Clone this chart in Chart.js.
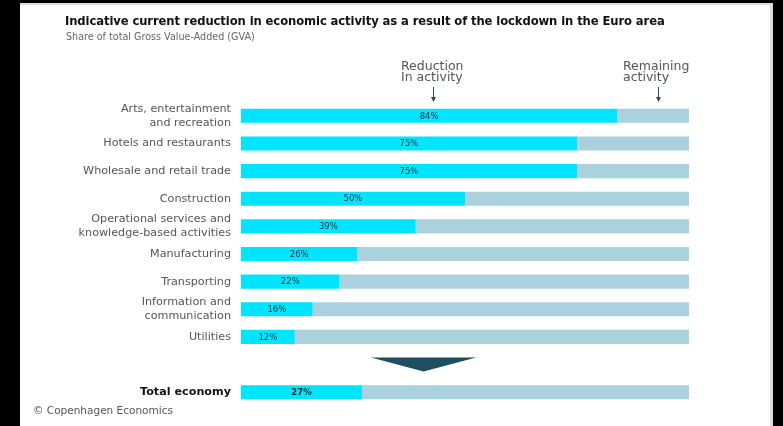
<!DOCTYPE html>
<html>
<head>
<meta charset="utf-8">
<script src="https://cdn.jsdelivr.net/npm/chart.js@4.4.1/dist/chart.umd.min.js"></script>
<style>
  html, body { margin: 0; padding: 0; background: #000; }
  body { width: 783px; height: 426px; position: relative; overflow: hidden; font-family: "DejaVu Sans", sans-serif; }
  #panel { position: absolute; left: 20px; top: 3px; width: 750px; height: 430px; background: #fff; border-top: 2px solid #ddd; border-right: 3px solid #ddd; }
  #chartWrap { position: absolute; left: 0; top: 0; width: 783px; height: 426px; }
  .txt { position: absolute; white-space: nowrap; }
  #title { left: 65px; top: 14px; font-size: 11.6px; font-weight: bold; color: #111; letter-spacing: -0.1px; }
  #subtitle { left: 66px; top: 31px; font-size: 9.6px; color: #666; }
  .note { font-size: 12.5px; line-height: 11px; color: #555; }
  #footer { left: 33px; top: 404px; font-size: 10.5px; color: #555; }
</style>
</head>
<body>
<div id="panel"></div>
<div id="chartWrap"><canvas id="chart" width="783" height="426"></canvas></div>
<div class="txt" id="title">Indicative current reduction in economic activity as a result of the lockdown in the Euro area</div>
<div class="txt" id="subtitle">Share of total Gross Value-Added (GVA)</div>
<div class="txt note" style="left:401px; top:60px;">Reduction<br>In activity</div>
<div class="txt note" style="left:623px; top:60px;">Remaining<br>activity</div>
<div class="txt" id="footer">© Copenhagen Economics</div>
<script>
// categories (empty slot holds the arrow between sectors and total)
const categories = [
    ["Arts, entertainment", "and recreation"],
    "Hotels and restaurants",
    "Wholesale and retail trade",
    "Construction",
    ["Operational services and", "knowledge-based activities"],
    "Manufacturing",
    "Transporting",
    ["Information and", "communication"],
    "Utilities",
    "",
    "Total economy"
];
const reduction = [84, 75, 75, 50, 39, 26, 22, 16, 12, null, 27];
const remaining = [16, 25, 25, 50, 61, 74, 78, 84, 88, null, 73];
const totalIndex = 10;
const arrowSlot = 9;

const cyan = "#00E5FF";
const grey = "#A9D2DE";

// percentage labels in the middle of the cyan bars
const valueLabels = {
    id: "valueLabels",
    afterDatasetsDraw(chart) {
        const ctx = chart.ctx;
        const meta = chart.getDatasetMeta(0);
        ctx.save();
        ctx.fillStyle = "#1c2f36";
        ctx.textAlign = "center";
        ctx.textBaseline = "middle";
        meta.data.forEach((bar, i) => {
            if (reduction[i] == null) return;
            ctx.font = (i === totalIndex ? "bold " : "") + "8.5px 'DejaVu Sans'";
            ctx.fillText(reduction[i] + "%", (bar.base + bar.x) / 2, bar.y + 0.5);
        });
        ctx.restore();
    }
};

// header arrows and the chevron before the total
const decorations = {
    id: "decorations",
    afterDraw(chart) {
        const ctx = chart.ctx;
        const x = chart.scales.x, y = chart.scales.y;
        ctx.save();
        ctx.strokeStyle = "#2d4a58";
        ctx.fillStyle = "#2d4a58";
        ctx.lineWidth = 1;
        [433.5, 658.5].forEach(ax => {
            ctx.beginPath();
            ctx.moveTo(ax, 87);
            ctx.lineTo(ax, 99);
            ctx.stroke();
            ctx.beginPath();
            ctx.moveTo(ax - 2.5, 97);
            ctx.lineTo(ax + 2.5, 97);
            ctx.lineTo(ax, 102);
            ctx.closePath();
            ctx.fill();
        });
        const cy = y.getPixelForValue(arrowSlot);
        const x1 = x.getPixelForValue(29), x2 = x.getPixelForValue(52.5);
        ctx.fillStyle = "#1F4E63";
        ctx.beginPath();
        ctx.moveTo(x1, cy - 7);
        ctx.lineTo(x2, cy - 7);
        ctx.lineTo((x1 + x2) / 2, cy + 7);
        ctx.closePath();
        ctx.fill();
        ctx.restore();
    }
};

new Chart(document.getElementById("chart"), {
    type: "bar",
    data: {
        labels: categories,
        datasets: [
            { label: "Reduction in activity", data: reduction, backgroundColor: cyan },
            { label: "Remaining activity", data: remaining, backgroundColor: grey }
        ]
    },
    options: {
        indexAxis: "y",
        responsive: false,
        animation: false,
        layout: { padding: { left: 0, right: 94, top: 102, bottom: 20 } },
        datasets: { bar: { barPercentage: 0.51, categoryPercentage: 1 } },
        plugins: {
            legend: { display: false },
            tooltip: { enabled: false }
        },
        scales: {
            x: { display: false, stacked: true, min: 0, max: 100 },
            y: {
                stacked: true,
                grid: { display: false, drawTicks: false },
                border: { display: false },
                afterFit(scale) {
                    scale.width = 241;
                    scale.paddingTop = 0;
                    scale.paddingBottom = 0;
                },
                ticks: {
                    autoSkip: false,
                    padding: 10,
                    color: (c) => c.index === totalIndex ? "#111" : "#555",
                    font: (c) => ({
                        family: "'DejaVu Sans'",
                        size: 11.2,
                        weight: c.index === totalIndex ? "bold" : "normal",
                        lineHeight: 1.25
                    })
                }
            }
        }
    },
    plugins: [valueLabels, decorations]
});
</script>
</body>
</html>
